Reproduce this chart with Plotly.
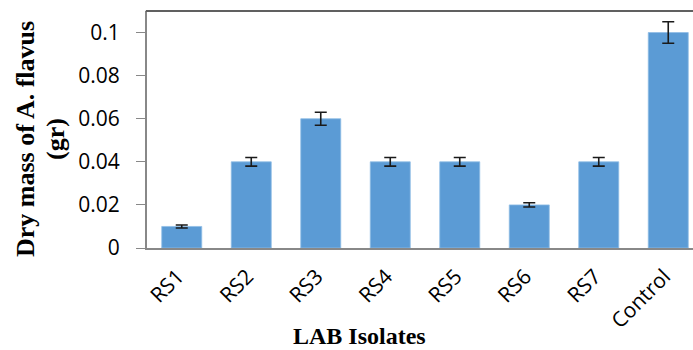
import plotly.graph_objects as go

categories = ["RS1", "RS2", "RS3", "RS4", "RS5", "RS6", "RS7", "Control"]
dry_mass = [0.01, 0.04, 0.06, 0.04, 0.04, 0.02, 0.04, 0.10]
errors = [0.0007, 0.002, 0.003, 0.002, 0.002, 0.001, 0.002, 0.005]
y_ticks = [0, 0.02, 0.04, 0.06, 0.08, 0.1]
y_tick_text = ["0", "0.02", "0.04", "0.06", "0.08", "0.1"]

W, H = 720, 350
L, R, T, B = 147, 0, 11, 102
pw = W - L - R
ph = H - T - B
cat_px = 69.5

def px_x(x):
    return (x - L) / pw

def px_y(y):
    return (H - B - y) / ph

fig = go.Figure()
fig.add_trace(go.Bar(
    x=categories, y=dry_mass, width=40 / cat_px,
    marker=dict(color="#5B9BD5", line=dict(color="#8FBCE6", width=0.8)),
    error_y=dict(type="data", array=errors, visible=True,
                 color="#1a1a1a", thickness=1.6, width=6),
))

fig.update_layout(
    width=W, height=H,
    margin=dict(l=L, r=R, t=T, b=B, pad=0),
    paper_bgcolor="white", plot_bgcolor="white",
    showlegend=False,
    font=dict(family="Open Sans", size=21, color="#000000"),
    xaxis=dict(
        type="category", range=[-0.5, -0.5 + pw / cat_px],
        showline=True, linecolor="#888888", linewidth=2,
        ticks="", tickangle=-45, showgrid=False,
        tickfont=dict(family="Open Sans", size=21, color="#000"),
        ticklabelstandoff=6, ticklabelshift=-4,
    ),
    yaxis=dict(
        range=[0, 0.11], tickvals=y_ticks, ticktext=y_tick_text,
        showline=True, linecolor="#888888", linewidth=2,
        ticks="outside", ticklen=9, tickcolor="#888888", tickwidth=1,
        showgrid=False, zeroline=False,
        tickfont=dict(family="Open Sans", size=21, color="#000"),
        ticklabelstandoff=12,
    ),
    shapes=[dict(type="line", xref="paper", yref="paper", x0=-0.002, x1=1,
                 y0=1, y1=1, line=dict(color="#606060", width=2))],
    annotations=[
        dict(text="<b>Dry mass of A. flavus</b>", xref="paper", yref="paper",
             x=px_x(25), y=px_y(139), textangle=-90, showarrow=False,
             xanchor="center", yanchor="middle",
             font=dict(family="Liberation Serif", size=26, color="#000")),
        dict(text="<b>(gr)</b>", xref="paper", yref="paper",
             x=px_x(55), y=px_y(139), textangle=-90, showarrow=False,
             xanchor="center", yanchor="middle",
             font=dict(family="Liberation Serif", size=26, color="#000")),
        dict(text="<b>LAB Isolates</b>", xref="paper", yref="paper",
             x=px_x(359), y=px_y(350), showarrow=False, borderpad=0,
             xanchor="center", yanchor="bottom",
             font=dict(family="Liberation Serif", size=24, color="#000")),
    ],
)

fig.write_html(
    "out.html", config={"displayModeBar": False},
    post_script=(
        "document.documentElement.style.overflow='hidden';"
        "document.body.style.margin='0';document.body.style.overflow='hidden';"
    ),
)
